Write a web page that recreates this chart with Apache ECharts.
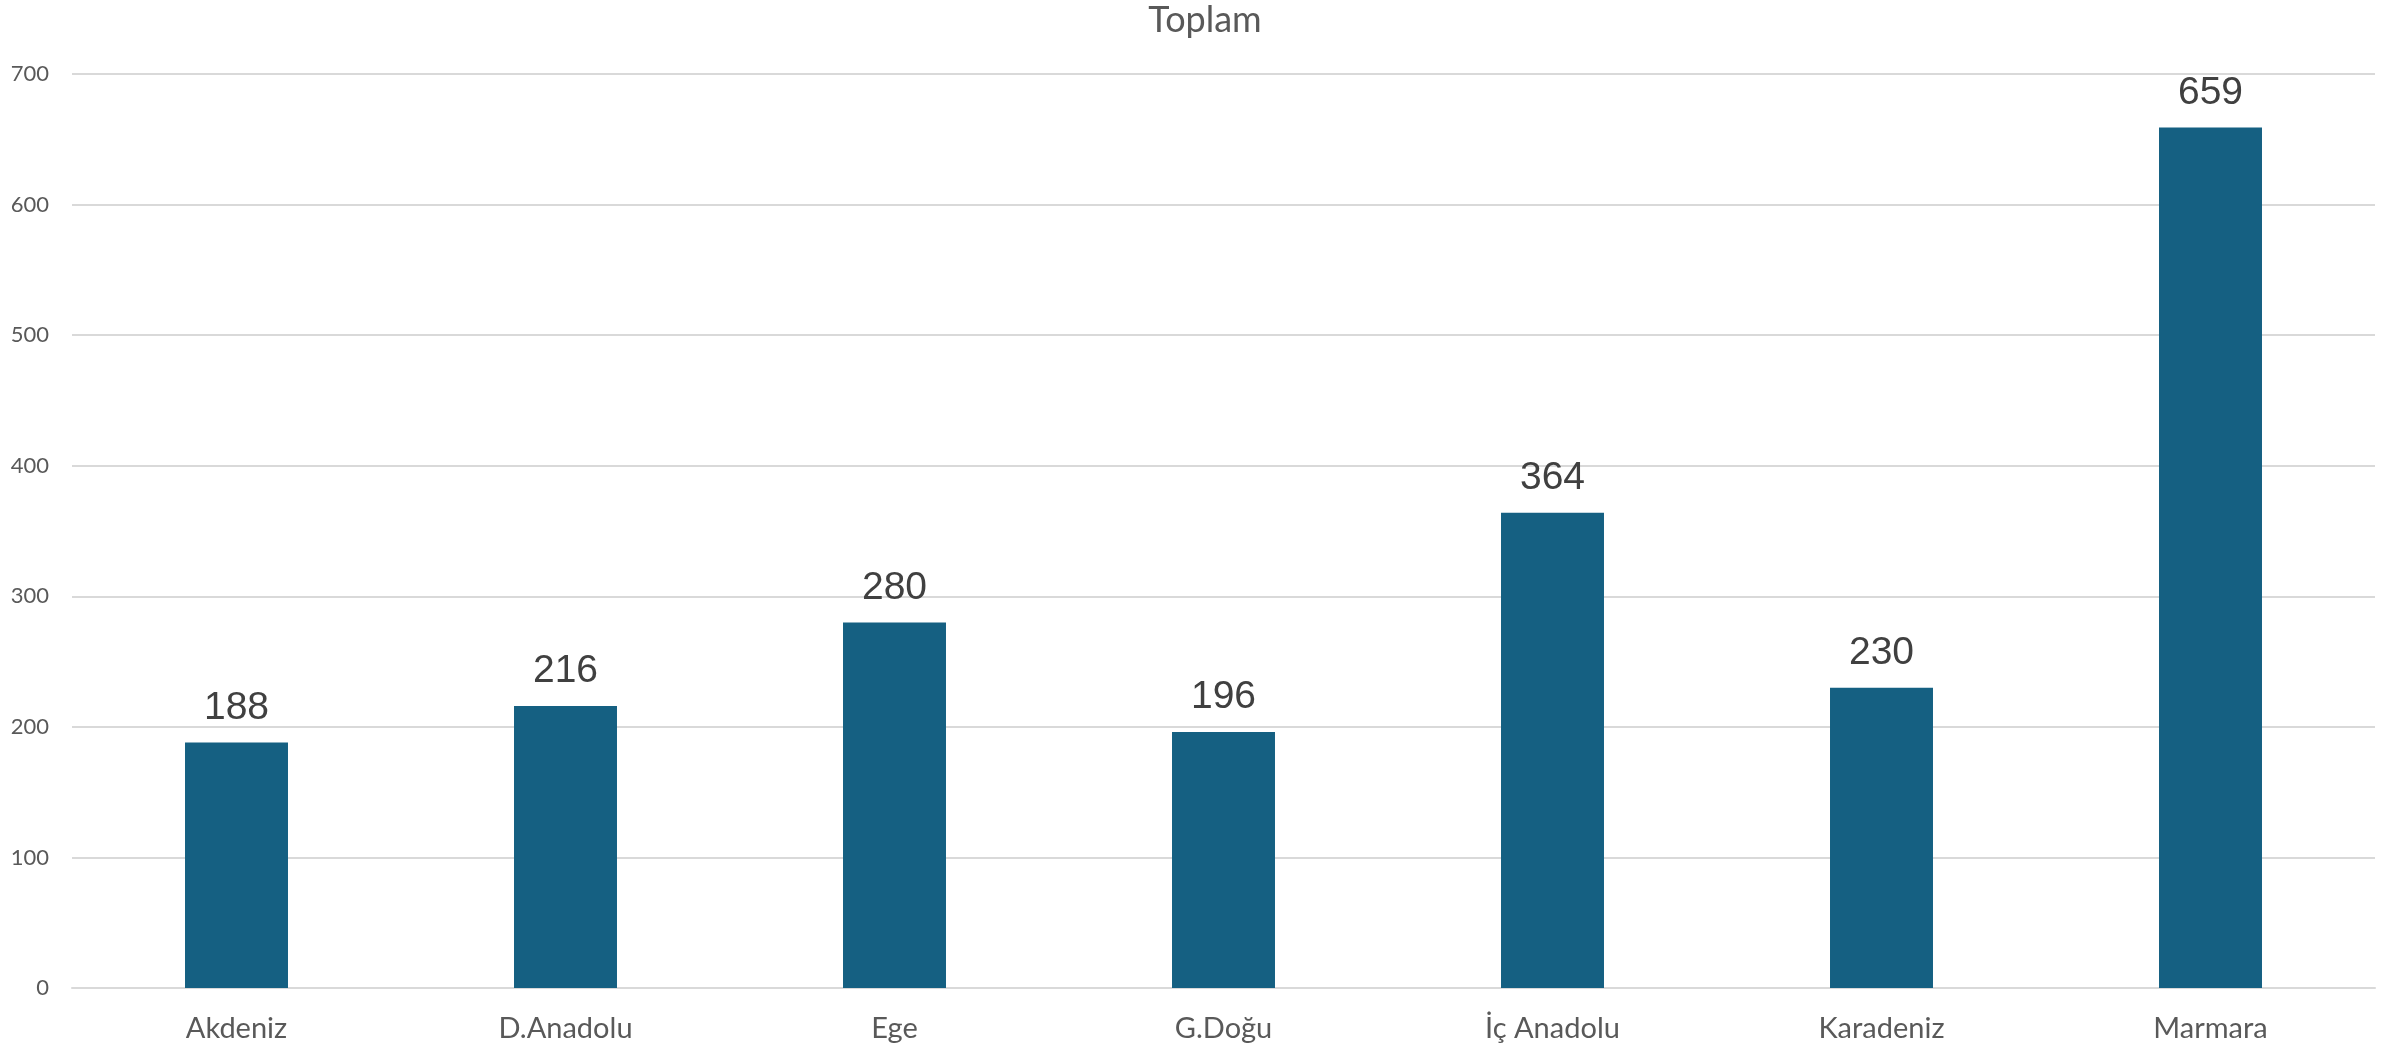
<!DOCTYPE html>
<html>
<head>
<meta charset="utf-8">
<style>
  html, body { margin: 0; padding: 0; background: #ffffff; }
  #chart { width: 2408px; height: 1045px; }
</style>
<script src="https://cdn.jsdelivr.net/npm/echarts@6/dist/echarts.min.js"></script>
</head>
<body>
<div id="chart"></div>
<script>
// Regions and totals per region
const regions = ['Akdeniz', 'D.Anadolu', 'Ege', 'G.Doğu', 'İç Anadolu', 'Karadeniz', 'Marmara'];
const totals = [188, 216, 280, 196, 364, 230, 659];
const yTicks = { min: 0, max: 700, interval: 100 };

const chart = echarts.init(document.getElementById('chart'), null, { renderer: 'canvas' });

chart.setOption({
  animation: false,
  backgroundColor: '#ffffff',
  title: {
    text: 'Toplam',
    left: 1200,
    textAlign: 'center',
    top: -3,
    textStyle: { fontFamily: 'Lato', fontWeight: 'normal', fontSize: 36, color: '#595959' }
  },
  grid: { left: 72, right: 33, top: 74, bottom: 57, containLabel: false },
  xAxis: {
    type: 'category',
    data: regions,
    axisLine: { lineStyle: { color: '#d9d9d9', width: 2 } },
    axisTick: { show: false },
    axisLabel: { fontFamily: 'Lato', fontSize: 29, color: '#595959', margin: 26 }
  },
  yAxis: {
    type: 'value',
    min: yTicks.min,
    max: yTicks.max,
    interval: yTicks.interval,
    axisLine: { show: false },
    axisTick: { show: false },
    splitLine: { lineStyle: { color: '#d9d9d9', width: 2 } },
    axisLabel: { fontFamily: 'Lato', fontSize: 22, color: '#595959', margin: 23 }
  },
  series: [{
    type: 'bar',
    data: totals,
    barWidth: '31.3%',
    itemStyle: { color: '#156082' },
    label: {
      show: true,
      position: 'top',
      distance: 15,
      fontFamily: 'Liberation Sans',
      fontSize: 39,
      color: '#404040'
    }
  }]
});
</script>
</body>
</html>
